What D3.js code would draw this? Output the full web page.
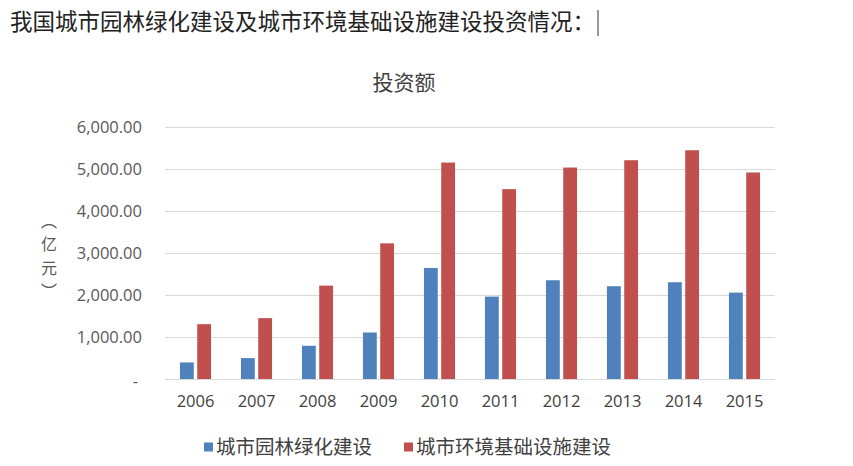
<!DOCTYPE html>
<html>
<head>
<meta charset="utf-8">
<script src="https://cdnjs.cloudflare.com/ajax/libs/d3/7.8.5/d3.min.js"></script>
<style>
  body { margin: 0; background: #ffffff; }
  #chart { width: 853px; height: 466px; }
</style>
</head>
<body>
<div id="chart"></div>
<script>
// Chart data
var years = ["2006", "2007", "2008", "2009", "2010", "2011", "2012", "2013", "2014", "2015"];
var seriesNames = ["城市园林绿化建设", "城市环境基础设施建设"];
var gardenValues = [394, 498, 791, 1107, 2644, 1962, 2351, 2209, 2304, 2057];
var environmentValues = [1306, 1449, 2223, 3230, 5154, 4520, 5035, 5209, 5447, 4917];
var yTicks = [0, 1000, 2000, 3000, 4000, 5000, 6000];
var colors = ["#4f81bd", "#c0504d"];

function drawChart() {

  // Store width and height parameters
  var svgWidth = 853;
  var svgHeight = 466;

  var margin = {
    top: 127,
    right: 78,
    bottom: 87,
    left: 165
  };

  var width = svgWidth - margin.left - margin.right;
  var height = svgHeight - margin.top - margin.bottom;

  var svg = d3.select("#chart")
    .append("svg")
    .attr("width", svgWidth)
    .attr("height", svgHeight)
    .style("font-family", "'Open Sans', 'Noto Sans CJK SC', sans-serif");

  // Page heading above the chart
  svg.append("text")
    .attr("x", 10)
    .attr("y", 30)
    .attr("font-family", "'Noto Sans CJK SC', sans-serif")
    .attr("font-size", "22.5px")
    .attr("fill", "#222")
    .text("我国城市园林绿化建设及城市环境基础设施建设投资情况：");

  svg.append("line")
    .attr("x1", 598).attr("x2", 598)
    .attr("y1", 10).attr("y2", 36)
    .attr("stroke", "#333")
    .attr("stroke-width", 1);

  // Chart title
  svg.append("text")
    .attr("x", 404)
    .attr("y", 90)
    .attr("text-anchor", "middle")
    .attr("font-family", "'Noto Sans CJK SC', sans-serif")
    .attr("font-size", "21px")
    .attr("fill", "#404040")
    .text("投资额");

  var chartGroup = svg.append("g")
    .attr("transform", `translate(${margin.left}, ${margin.top})`);

  // Create scale functions
  // ==============================
  var x0 = d3.scaleBand()
    .domain(years)
    .range([0, width])
    .paddingInner(0.49)
    .paddingOuter(0.245);

  var x1 = d3.scaleBand()
    .domain(seriesNames)
    .range([0, x0.bandwidth()])
    .paddingInner(0.2);

  var y = d3.scaleLinear()
    .domain([0, 6000])
    .range([height, 0]);

  // Gridlines
  // ==============================
  chartGroup.append("g")
    .selectAll("line")
    .data(yTicks)
    .enter()
    .append("line")
    .attr("x1", 0)
    .attr("x2", width)
    .attr("y1", d => y(d) + 0.5)
    .attr("y2", d => y(d) + 0.5)
    .attr("stroke", "#d9d9d9")
    .attr("stroke-width", 1);

  // Y axis (labels only)
  // ==============================
  var leftAxis = d3.axisLeft(y)
    .tickValues(yTicks)
    .tickSize(0)
    .tickPadding(23)
    .tickFormat(d => d === 0 ? "-" : d3.format(",.2f")(d));

  var yAxis = chartGroup.append("g").call(leftAxis);
  yAxis.select(".domain").remove();
  yAxis.selectAll("text")
    .attr("font-size", "16.5px")
    .attr("fill", "#595959")
    .attr("font-family", "'Open Sans', sans-serif");
  yAxis.selectAll(".tick")
    .filter(d => d === 0)
    .select("text")
    .attr("dx", -4)
    .attr("dy", "0.45em");

  // X axis (labels only)
  // ==============================
  var bottomAxis = d3.axisBottom(x0)
    .tickSize(0)
    .tickPadding(16);

  var xAxis = chartGroup.append("g")
    .attr("transform", `translate(0, ${height})`)
    .call(bottomAxis);
  xAxis.select(".domain").remove();
  xAxis.selectAll("text")
    .attr("font-size", "16.5px")
    .attr("fill", "#404040")
    .attr("font-family", "'Open Sans', sans-serif");

  // Bars
  // ==============================
  var seriesValues = [gardenValues, environmentValues];

  var groups = chartGroup.selectAll(".year")
    .data(years)
    .enter()
    .append("g")
    .attr("class", "year")
    .attr("transform", d => `translate(${x0(d)}, 0)`);

  groups.selectAll("rect")
    .data((d, i) => seriesNames.map((name, s) => ({ name: name, s: s, value: seriesValues[s][i] })))
    .enter()
    .append("rect")
    .attr("x", d => x1(d.name))
    .attr("width", x1.bandwidth())
    .attr("y", d => y(d.value))
    .attr("height", d => height - y(d.value))
    .attr("fill", d => colors[d.s]);

  // Y axis title, stacked one character per line (vertical bracket forms)
  // ==============================
  var titleChars = ["︵", "亿", "元", "︶"];
  var titleY = [221, 244.5, 268, 291.5];

  svg.append("g")
    .selectAll("text")
    .data(titleChars)
    .enter()
    .append("text")
    .attr("x", 49)
    .attr("y", (d, i) => titleY[i])
    .attr("dy", "0.35em")
    .attr("text-anchor", "middle")
    .attr("font-family", "'Noto Sans CJK SC', sans-serif")
    .attr("font-size", "16px")
    .attr("fill", "#595959")
    .text(d => d);

  // Legend
  // ==============================
  var legendX = [204, 404];
  var legend = svg.selectAll(".legend")
    .data(seriesNames)
    .enter()
    .append("g")
    .attr("class", "legend")
    .attr("transform", (d, i) => `translate(${legendX[i]}, 447)`);

  legend.append("rect")
    .attr("x", 0)
    .attr("y", -4.5)
    .attr("width", 9)
    .attr("height", 9)
    .attr("fill", (d, i) => colors[i]);

  legend.append("text")
    .attr("x", 12)
    .attr("y", 0)
    .attr("dy", "0.35em")
    .attr("font-family", "'Noto Sans CJK SC', sans-serif")
    .attr("font-size", "19.5px")
    .attr("fill", "#404040")
    .text(d => d);
}

drawChart();
</script>
</body>
</html>
